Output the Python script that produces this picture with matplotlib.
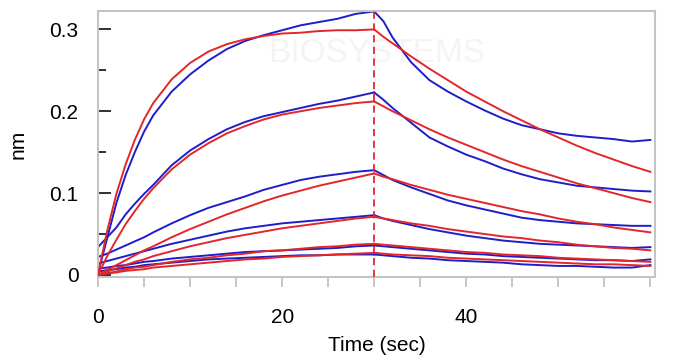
import matplotlib.pyplot as plt
from matplotlib.ticker import MultipleLocator, FuncFormatter

# --- time axes (sec) ---
t_assoc = [0, 1, 2, 3, 4, 5, 6, 8, 10, 12, 14, 16, 18, 20, 22, 24, 26, 28, 30]
t_dissoc = [30, 31, 32, 34, 36, 38, 40, 42, 44, 46, 48, 50, 52, 54, 56, 58, 60]

# --- measured response (blue), association / dissociation ---
meas_assoc = [
    [0.002, 0.045, 0.088, 0.122, 0.150, 0.175, 0.195, 0.224, 0.245, 0.262, 0.276, 0.286, 0.293, 0.299, 0.305, 0.309, 0.313, 0.319, 0.322],
    [0.034, 0.046, 0.058, 0.074, 0.087, 0.099, 0.110, 0.134, 0.152, 0.166, 0.178, 0.187, 0.194, 0.199, 0.204, 0.209, 0.213, 0.218, 0.223],
    [0.022, 0.026, 0.031, 0.036, 0.041, 0.046, 0.052, 0.063, 0.073, 0.082, 0.089, 0.096, 0.104, 0.110, 0.116, 0.120, 0.123, 0.126, 0.128],
    [0.014, 0.017, 0.020, 0.023, 0.026, 0.029, 0.032, 0.038, 0.043, 0.048, 0.053, 0.057, 0.060, 0.063, 0.065, 0.067, 0.069, 0.071, 0.073],
    [0.008, 0.009, 0.011, 0.012, 0.014, 0.016, 0.017, 0.020, 0.022, 0.024, 0.026, 0.028, 0.029, 0.030, 0.031, 0.032, 0.033, 0.035, 0.036],
    [0.004, 0.006, 0.007, 0.009, 0.010, 0.012, 0.013, 0.015, 0.017, 0.019, 0.020, 0.021, 0.022, 0.023, 0.024, 0.024, 0.025, 0.025, 0.025],
]
meas_dissoc = [
    [0.322, 0.310, 0.290, 0.260, 0.238, 0.224, 0.212, 0.201, 0.191, 0.183, 0.178, 0.173, 0.170, 0.168, 0.166, 0.163, 0.165],
    [0.223, 0.214, 0.204, 0.186, 0.168, 0.157, 0.147, 0.139, 0.130, 0.123, 0.117, 0.113, 0.109, 0.107, 0.105, 0.103, 0.102],
    [0.128, 0.122, 0.116, 0.107, 0.099, 0.091, 0.085, 0.080, 0.075, 0.070, 0.067, 0.065, 0.063, 0.062, 0.061, 0.060, 0.060],
    [0.073, 0.069, 0.066, 0.061, 0.056, 0.052, 0.048, 0.045, 0.042, 0.040, 0.038, 0.037, 0.036, 0.035, 0.034, 0.033, 0.034],
    [0.036, 0.035, 0.034, 0.032, 0.030, 0.028, 0.026, 0.025, 0.023, 0.022, 0.021, 0.020, 0.019, 0.018, 0.018, 0.017, 0.019],
    [0.025, 0.024, 0.023, 0.021, 0.020, 0.018, 0.017, 0.016, 0.015, 0.013, 0.012, 0.011, 0.011, 0.010, 0.009, 0.009, 0.012],
]

# --- fitted curves (red) ---
fit_assoc = [
    [0.000, 0.054, 0.099, 0.135, 0.165, 0.190, 0.210, 0.239, 0.259, 0.273, 0.282, 0.288, 0.292, 0.295, 0.296, 0.298, 0.299, 0.299, 0.300],
    [0.000, 0.023, 0.043, 0.062, 0.078, 0.093, 0.106, 0.129, 0.147, 0.161, 0.173, 0.182, 0.190, 0.196, 0.200, 0.204, 0.207, 0.210, 0.212],
    [0.000, 0.006, 0.012, 0.018, 0.024, 0.030, 0.035, 0.046, 0.056, 0.065, 0.074, 0.082, 0.090, 0.097, 0.103, 0.109, 0.114, 0.119, 0.124],
    [0.000, 0.004, 0.008, 0.012, 0.016, 0.019, 0.023, 0.029, 0.035, 0.040, 0.045, 0.049, 0.053, 0.057, 0.060, 0.063, 0.066, 0.069, 0.071],
    [0.000, 0.002, 0.004, 0.007, 0.009, 0.010, 0.012, 0.016, 0.019, 0.021, 0.024, 0.026, 0.029, 0.030, 0.032, 0.034, 0.035, 0.037, 0.038],
    [0.000, 0.002, 0.003, 0.005, 0.006, 0.007, 0.009, 0.011, 0.013, 0.015, 0.017, 0.019, 0.020, 0.022, 0.023, 0.024, 0.025, 0.026, 0.027],
]
fit_dissoc = [
    [0.300, 0.291, 0.283, 0.267, 0.252, 0.238, 0.224, 0.212, 0.200, 0.189, 0.178, 0.168, 0.158, 0.149, 0.141, 0.133, 0.126],
    [0.212, 0.206, 0.200, 0.189, 0.178, 0.168, 0.159, 0.150, 0.141, 0.133, 0.126, 0.119, 0.112, 0.106, 0.100, 0.094, 0.089],
    [0.124, 0.120, 0.117, 0.110, 0.104, 0.098, 0.093, 0.088, 0.083, 0.078, 0.074, 0.069, 0.065, 0.062, 0.058, 0.055, 0.052],
    [0.071, 0.069, 0.067, 0.063, 0.060, 0.056, 0.053, 0.050, 0.047, 0.045, 0.042, 0.040, 0.037, 0.035, 0.033, 0.032, 0.030],
    [0.038, 0.037, 0.036, 0.034, 0.032, 0.030, 0.028, 0.027, 0.025, 0.024, 0.023, 0.021, 0.020, 0.019, 0.018, 0.017, 0.016],
    [0.027, 0.026, 0.025, 0.024, 0.023, 0.021, 0.020, 0.019, 0.018, 0.017, 0.016, 0.015, 0.014, 0.013, 0.013, 0.012, 0.011],
]

x_labels = {0: "0", 20: "20", 40: "40"}  # 60 carries a tick but no label

BLUE = "#1e1ec8"
RED = "#e3262b"
GRID_GREY = "#c4c4c4"

plt.rcParams["font.family"] = ["Liberation Sans", "DejaVu Sans"]

fig = plt.figure(figsize=(6.73, 3.60), dpi=100)
ax = fig.add_axes([0.1456, 0.2306, 0.8277, 0.7388])

# faint watermark
ax.text(0.50, 0.84, "BIOSYSTEMS", transform=ax.transAxes, ha="center", va="center",
        fontsize=24, color="#f4f4f4", zorder=0)

for ya, yd in zip(meas_assoc, meas_dissoc):
    ax.plot(t_assoc, ya, color=BLUE, lw=1.4, zorder=2)
    ax.plot(t_dissoc, yd, color=BLUE, lw=1.4, zorder=2)

for ya, yd in zip(fit_assoc, fit_dissoc):
    ax.plot(t_assoc, ya, color=RED, lw=1.4, zorder=3)
    ax.plot(t_dissoc, yd, color=RED, lw=1.4, zorder=3)

ax.axvline(30, color=RED, lw=1.3, ls=(0, (4, 2.5)), zorder=4)

ax.set_xlim(0, 60.5)
ax.set_ylim(-0.0025, 0.3225)

# y ticks: inside, dark
ax.yaxis.set_major_locator(MultipleLocator(0.1))
ax.yaxis.set_minor_locator(MultipleLocator(0.05))
ax.yaxis.set_major_formatter(FuncFormatter(lambda v, p: "0" if abs(v) < 1e-9 else f"{v:.1f}"))
ax.tick_params(axis="y", which="major", direction="in", length=9.5, width=1.3,
               color="#202020", pad=14, labelsize=15)
ax.tick_params(axis="y", which="minor", direction="in", length=6, width=1.3, color="#202020")

# x ticks: outside, grey, every 5 s, labels at 0/20/40
ax.xaxis.set_major_locator(MultipleLocator(20))
ax.xaxis.set_minor_locator(MultipleLocator(5))
ax.xaxis.set_major_formatter(FuncFormatter(lambda v, p: x_labels.get(int(round(v)), "")))
ax.tick_params(axis="x", which="both", direction="out", length=7.5, width=1.3, color=GRID_GREY)
ax.tick_params(axis="x", which="major", pad=15, labelsize=15)

for s in ax.spines.values():
    s.set_color(GRID_GREY)
    s.set_linewidth(1.5)

ax.set_xlabel("Time (sec)", fontsize=15, labelpad=6)
ax.set_ylabel("nm", fontsize=15, labelpad=16)

fig.savefig("out.png", dpi=100)
plt.close(fig)
